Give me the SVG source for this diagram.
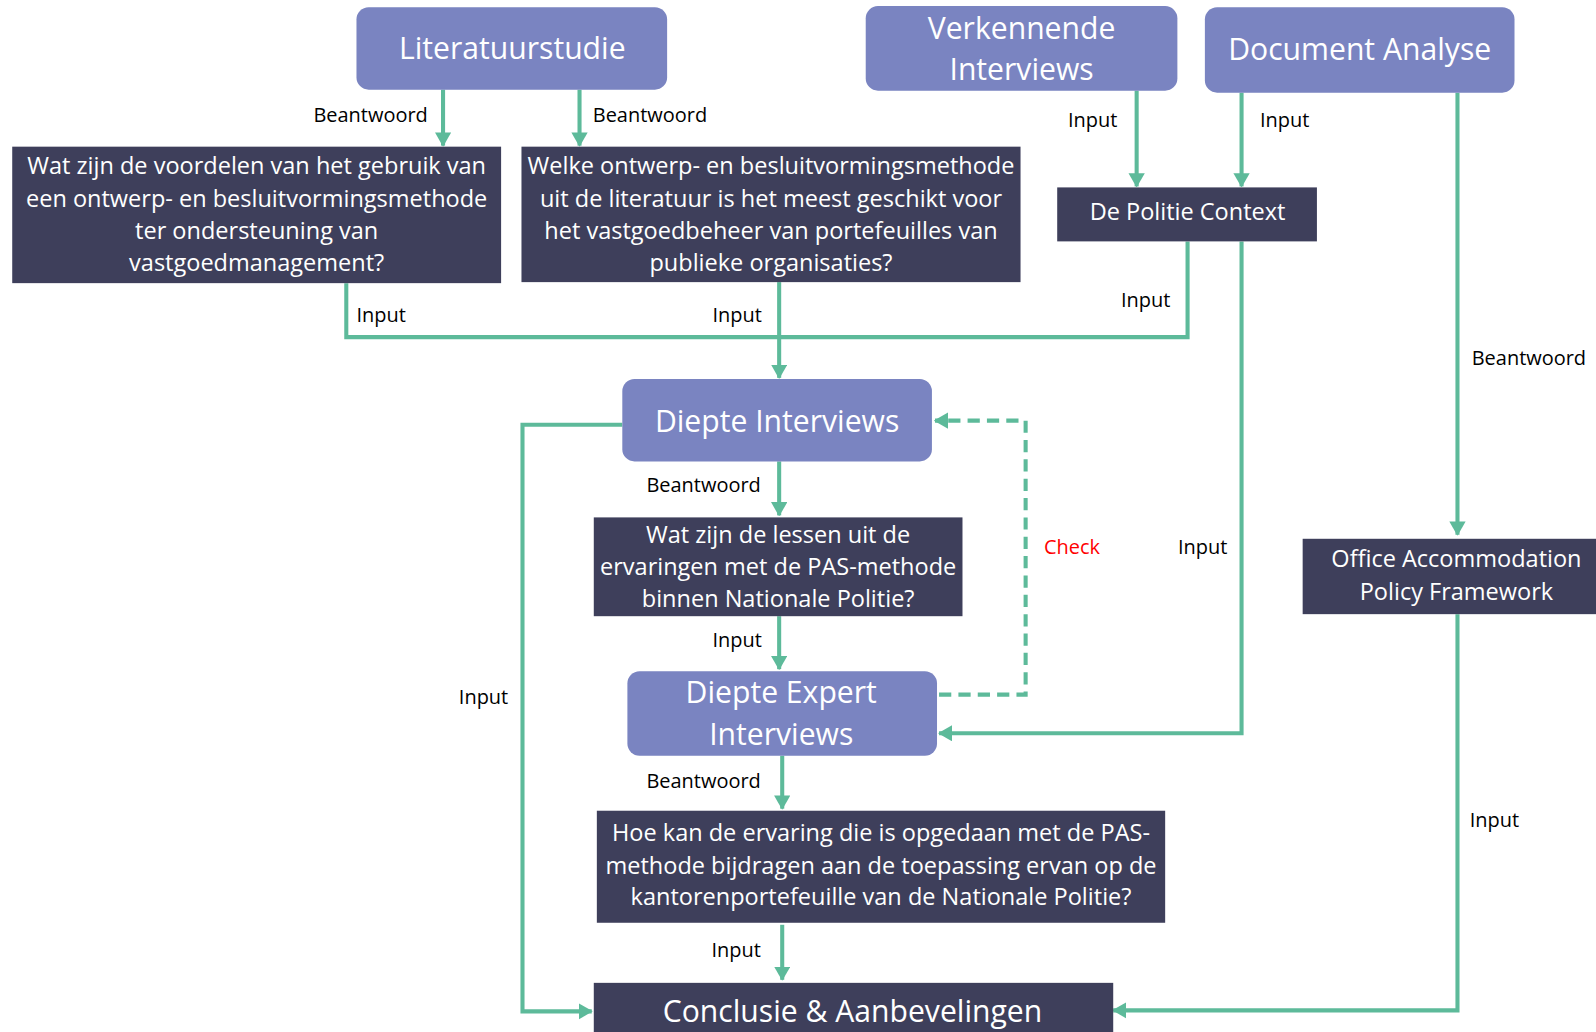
<svg xmlns="http://www.w3.org/2000/svg" width="1596" height="1032" viewBox="0 0 1596 1032">
<style>
.p{fill:#7a84c1}
.d{fill:#3e3f5b}
.t{font-family:"Open Sans","Liberation Sans",sans-serif;fill:#ffffff;text-anchor:middle}
.big{font-size:29.6px}
.q{font-size:23.1px}
.l{font-family:"Open Sans","Liberation Sans",sans-serif;font-size:19.6px;fill:#000000}
.c{fill:none;stroke:#5dba9a;stroke-width:4}
.dash{stroke-dasharray:12 7}
</style>
<defs>
<marker id="ah" viewBox="0 0 14 16" refX="13" refY="8" markerWidth="14" markerHeight="16" markerUnits="userSpaceOnUse" orient="auto">
<path d="M0,0 L14,8 L0,16 z" fill="#5dba9a"/>
</marker>
</defs>
<rect width="1596" height="1032" fill="#ffffff"/>
<g transform="scale(1.0185)">
<g id="connectors">
<path class="c" d="M435,88 V143" marker-end="url(#ah)"/>
<path class="c" d="M569,88 V143" marker-end="url(#ah)"/>
<path class="c" d="M1116,89 V183" marker-end="url(#ah)"/>
<path class="c" d="M1219,91 V183" marker-end="url(#ah)"/>
<path class="c" d="M1431,91 V525" marker-end="url(#ah)"/>
<path class="c" d="M340,278 V331 H765"/>
<path class="c" d="M1166,237 V331 H765"/>
<path class="c" d="M765,277 V371" marker-end="url(#ah)"/>
<path class="c" d="M765,453 V506" marker-end="url(#ah)"/>
<path class="c" d="M765,605 V657" marker-end="url(#ah)"/>
<path class="c dash" d="M922,682 H1007 V413 H918" marker-end="url(#ah)"/>
<path class="c" d="M1219,237 V720 H922" marker-end="url(#ah)"/>
<path class="c" d="M611,417 H513 V993 H581" marker-end="url(#ah)"/>
<path class="c" d="M768,742 V794" marker-end="url(#ah)"/>
<path class="c" d="M768,908 V962" marker-end="url(#ah)"/>
<path class="c" d="M1431,603 V992 H1093" marker-end="url(#ah)"/>
<text class="l" x="420" y="120" text-anchor="end">Beantwoord</text>
<text class="l" x="582" y="120">Beantwoord</text>
<text class="l" x="1097" y="125" text-anchor="end">Input</text>
<text class="l" x="1237" y="125">Input</text>
<text class="l" x="1445" y="358">Beantwoord</text>
<text class="l" x="350" y="316">Input</text>
<text class="l" x="748" y="316" text-anchor="end">Input</text>
<text class="l" x="1149" y="301" text-anchor="end">Input</text>
<text class="l" x="747" y="483" text-anchor="end">Beantwoord</text>
<text class="l" x="748" y="635" text-anchor="end">Input</text>
<text class="l" x="1025" y="544" style="fill:#ff0000">Check</text>
<text class="l" x="1205" y="544" text-anchor="end">Input</text>
<text class="l" x="499" y="691" text-anchor="end">Input</text>
<text class="l" x="747" y="774" text-anchor="end">Beantwoord</text>
<text class="l" x="747" y="940" text-anchor="end">Input</text>
<text class="l" x="1443" y="812">Input</text>
</g>

<g id="literatuurstudie">
<rect class="p" x="350" y="7" width="305" height="81" rx="12"/>
<text class="t big" x="503" y="58">Literatuurstudie</text>
</g>
<g id="verkennende">
<rect class="p" x="850" y="6" width="306" height="83" rx="12"/>
<text class="t big" x="1003" y="38">Verkennende</text>
<text class="t big" x="1003" y="79">Interviews</text>
</g>
<g id="document">
<rect class="p" x="1183" y="7" width="304" height="84" rx="12"/>
<text class="t big" x="1335" y="59">Document Analyse</text>
</g>
<g id="q1">
<rect class="d" x="12" y="144" width="480" height="134"/>
<text class="t q" x="252" y="171">Wat zijn de voordelen van het gebruik van</text>
<text class="t q" x="252" y="203">een ontwerp- en besluitvormingsmethode</text>
<text class="t q" x="252" y="235">ter ondersteuning van</text>
<text class="t q" x="252" y="266">vastgoedmanagement?</text>
</g>
<g id="q2">
<rect class="d" x="512" y="144" width="490" height="133"/>
<text class="t q" x="757" y="171">Welke ontwerp- en besluitvormingsmethode</text>
<text class="t q" x="757" y="203">uit de literatuur is het meest geschikt voor</text>
<text class="t q" x="757" y="235">het vastgoedbeheer van portefeuilles van</text>
<text class="t q" x="757" y="266">publieke organisaties?</text>
</g>
<g id="politie">
<rect class="d" x="1038" y="184" width="255" height="53"/>
<text class="t q" x="1166" y="216">De Politie Context</text>
</g>
<g id="diepte">
<rect class="p" x="611" y="372" width="304" height="81" rx="12"/>
<text class="t big" x="763" y="424">Diepte Interviews</text>
</g>
<g id="q3">
<rect class="d" x="583" y="508" width="362" height="97"/>
<text class="t q" x="764" y="533">Wat zijn de lessen uit de</text>
<text class="t q" x="764" y="565">ervaringen met de PAS-methode</text>
<text class="t q" x="764" y="596">binnen Nationale Politie?</text>
</g>
<g id="expert">
<rect class="p" x="616" y="659" width="304" height="83" rx="12"/>
<text class="t big" x="767" y="690">Diepte Expert</text>
<text class="t big" x="767" y="731">Interviews</text>
</g>
<g id="q4">
<rect class="d" x="586" y="796" width="558" height="110"/>
<text class="t q" x="865" y="826">Hoe kan de ervaring die is opgedaan met de PAS-</text>
<text class="t q" x="865" y="858">methode bijdragen aan de toepassing ervan op de</text>
<text class="t q" x="865" y="889">kantorenportefeuille van de Nationale Politie?</text>
</g>
<g id="office">
<rect class="d" x="1279" y="529" width="292" height="74"/>
<text class="t q" x="1430" y="557">Office Accommodation</text>
<text class="t q" x="1430" y="589">Policy Framework</text>
</g>
<g id="conclusie">
<rect class="d" x="583" y="965" width="510" height="60"/>
<text class="t big" x="837" y="1003">Conclusie &amp; Aanbevelingen</text>
</g>
</g>
</svg>
